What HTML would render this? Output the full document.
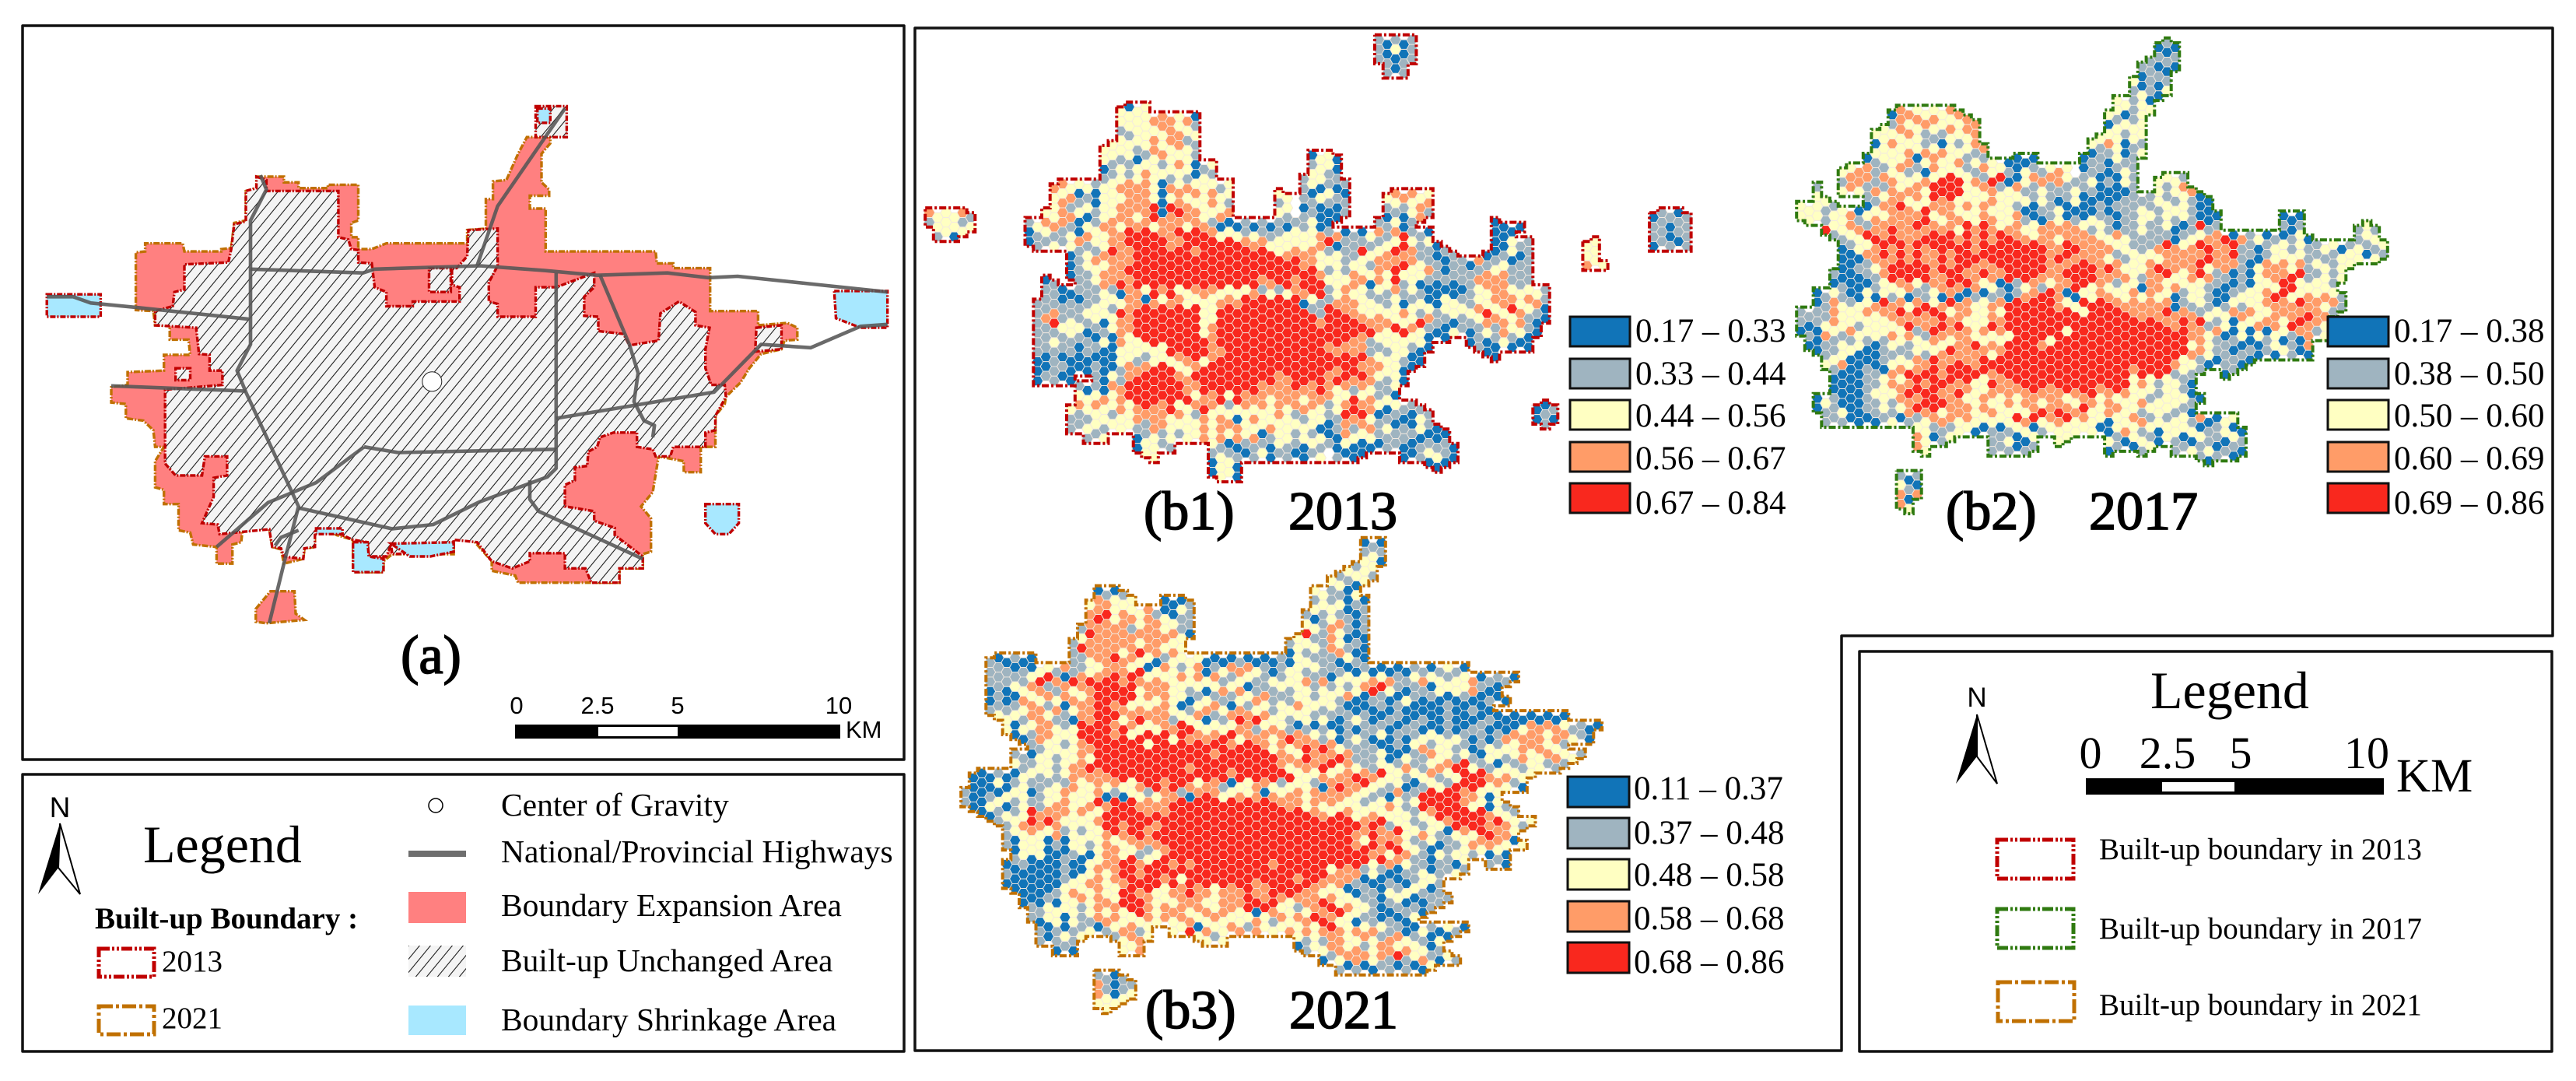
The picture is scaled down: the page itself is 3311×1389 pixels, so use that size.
<!DOCTYPE html>
<html lang="en">
<head>
<meta charset="utf-8">
<title>Built-up boundary and hexagon maps</title>
<style>
html,body{margin:0;padding:0;background:#fff;}
svg{display:block;}
text{fill:#000;font-family:"Liberation Serif",serif;}
.sans{font-family:"Liberation Sans",sans-serif;}
.frame{fill:none;stroke:#111;stroke-width:3.5;stroke-linejoin:round;}
.sw{stroke:#111;stroke-width:3;}
.lg{font-size:43px;}
.ttl{font-size:70px;stroke:#000;stroke-width:1.7px;}
.leg{font-size:41.5px;}
.bnd{font-size:39px;}
.kb13{fill:none;stroke:#c00000;stroke-width:5;stroke-dasharray:14 3 3 3 3 3;}
.kb17{fill:none;stroke:#2f7a10;stroke-width:5;stroke-dasharray:14 3 3 3 3 3;}
.kb21{fill:none;stroke:#c07000;stroke-width:5;stroke-dasharray:18 4 4 4;}
</style>
</head>
<body>
<svg id="root" xmlns="http://www.w3.org/2000/svg" width="3311" height="1389" viewBox="0 0 3311 1389">
<defs>
<pattern id="hatch" patternUnits="userSpaceOnUse" width="14" height="17">
<rect width="14" height="17" fill="#f4f4f4"/>
<line x1="0" y1="17" x2="14" y2="0" stroke="#222" stroke-width="1.1"/>
<line x1="-2" y1="2" x2="2" y2="-2" stroke="#222" stroke-width="1.1"/>
<line x1="12" y1="19" x2="16" y2="15" stroke="#222" stroke-width="1.1"/>
</pattern>
</defs>
<rect width="3311" height="1389" fill="#fff"/>

<rect class="frame" x="29" y="33" width="1133" height="943"/>
<rect class="frame" x="29" y="995" width="1133" height="356"/>
<path class="frame" d="M1176 36H3281V817H2367V1350H1176Z"/>
<rect class="frame" x="2390" y="837" width="890" height="514"/>

<g id="mapA"></g>
<g id="hexB1"></g>
<g id="hexB2"></g>
<g id="hexB3"></g>

<text class="ttl" x="554" y="865" text-anchor="middle">(a)</text>
<g>
<rect x="662" y="931" width="418" height="18" fill="#000"/>
<rect x="769" y="934" width="102" height="12" fill="#fff"/>
<text class="sans" font-size="31" x="664" y="917" text-anchor="middle">0</text>
<text class="sans" font-size="31" x="768" y="917" text-anchor="middle">2.5</text>
<text class="sans" font-size="31" x="871" y="917" text-anchor="middle">5</text>
<text class="sans" font-size="31" x="1078" y="917" text-anchor="middle">10</text>
<text class="sans" font-size="31" x="1087" y="948">KM</text>
</g>

<g>
<text class="sans" font-size="37" x="77" y="1050" text-anchor="middle">N</text>
<path d="M77 1058L49 1149L75 1115Z" fill="#000"/>
<path d="M77 1058L103 1149L75 1115Z" fill="#fff" stroke="#000" stroke-width="2"/>
<text font-size="68" x="184" y="1108">Legend</text>
<text font-size="39" font-weight="bold" x="122" y="1193">Built-up Boundary :</text>
<rect class="kb13" x="127" y="1219" width="71" height="36"/>
<text font-size="39" x="208" y="1248">2013</text>
<rect class="kb21" x="127" y="1293" width="71" height="36"/>
<text font-size="39" x="208" y="1321">2021</text>
<ellipse cx="560" cy="1035" rx="9" ry="9" fill="#fff" stroke="#000" stroke-width="1.5"/>
<text class="leg" x="644" y="1048">Center of Gravity</text>
<rect x="525" y="1093" width="74" height="8" fill="#6e6e6e"/>
<text class="leg" x="644" y="1108">National/Provincial Highways</text>
<rect x="525" y="1146" width="74" height="40" fill="#ff8080"/>
<text class="leg" x="644" y="1177">Boundary Expansion Area</text>
<rect x="525" y="1215" width="74" height="40" fill="url(#hatch)"/>
<text class="leg" x="644" y="1248">Built-up Unchanged Area</text>
<rect x="525" y="1292" width="74" height="38" fill="#a8e8ff"/>
<text class="leg" x="644" y="1324">Boundary Shrinkage Area</text>
</g>

<text class="ttl" x="1470" y="680">(b1)</text>
<text class="ttl" x="1656" y="680">2013</text>
<text class="ttl" x="2501" y="680">(b2)</text>
<text class="ttl" x="2685" y="680">2017</text>
<text class="ttl" x="1472" y="1321">(b3)</text>
<text class="ttl" x="1657" y="1321">2021</text>

<g id="classLegends"></g>

<g>
<text font-size="68" x="2764" y="910">Legend</text>
<text class="sans" font-size="35" x="2541" y="908" text-anchor="middle">N</text>
<path d="M2541 918L2514 1007L2541 972Z" fill="#000"/>
<path d="M2541 918L2567 1007L2541 972Z" fill="#fff" stroke="#000" stroke-width="2"/>
<text font-size="58" x="2687" y="987" text-anchor="middle">0</text>
<text font-size="58" x="2786" y="987" text-anchor="middle">2.5</text>
<text font-size="58" x="2880" y="987" text-anchor="middle">5</text>
<text font-size="58" x="3042" y="987" text-anchor="middle">10</text>
<rect x="2681" y="1000" width="383" height="21" fill="#000"/>
<rect x="2779" y="1005" width="93" height="12" fill="#fff"/>
<text font-size="61" x="3080" y="1017">KM</text>
<rect class="kb13" x="2567" y="1079" width="98" height="50"/>
<rect class="kb17" x="2567" y="1168" width="98" height="50"/>
<rect class="kb21" x="2568" y="1262" width="98" height="50"/>
<text class="bnd" x="2698" y="1104">Built-up boundary in 2013</text>
<text class="bnd" x="2698" y="1206">Built-up boundary in 2017</text>
<text class="bnd" x="2698" y="1304">Built-up boundary in 2021</text>
</g>
</svg>

<script>
// Class colours (1..5) and the printed class ranges for each year.
const classColors = ['#1174b8', '#9fb4c0', '#ffffc2', '#ff9c68', '#f9281e'];
const b1Breaks = ['0.17 – 0.33', '0.33 – 0.44', '0.44 – 0.56', '0.56 – 0.67', '0.67 – 0.84'];
const b2Breaks = ['0.17 – 0.38', '0.38 – 0.50', '0.50 – 0.60', '0.60 – 0.69', '0.69 – 0.86'];
const b3Breaks = ['0.11 – 0.37', '0.37 – 0.48', '0.48 – 0.58', '0.58 – 0.68', '0.68 – 0.86'];

// Hexagon classes per grid row. "col:digits" starts a run at a column; a bare token continues it.
const b1Rows = [
"54:21212","54:21312","54:22122","55:212","","","",
"23:3133","23:3333444341","23:2333344332","23:3233434423","21:333323433432",
"21:332312343332 46:1331","21:12323332343123 46:2331","21:22323433232132 45:23322",
"15:4433323344443143433323 45:231212","15:3341213334443134343433 42:33 45:213321 55:344433",
"15:3422313344445154433432 42:23 45:121212 55:232344",
"0:433342 14:33443123344345145443344 42:32 45:221112 55:121342 87:12212",
"0:233323 12:2344421324 4344434443 4421112121 212231 48:1 54:22312 68:11 71:1 87:22122",
"1:2313 12:1232231433 4455554455 5543332322 233334 48:2412134245221 68:111 87:22122",
"12:1223234233 4455555445 5555554443 333334 48:51222223353231 68:11322 79:33 87:12212",
"17:1232454455 5555545555 5555534444 3 48:2322533454422122 67:112312 79:33",
"17:1234344455 5555555555 5555555544 3 48:3323324445432212214223122 79:433",
"17:1223444555 5555555555 5555555555 4 48:232433435333421222243422 2",
"14:12 18:2234454555 5555555555 5544554555 48:3334414352312121224444222",
"14:2211222321 4435453344 4333342323 4455 48:234332324232111112334433332",
"13:2221212233 3441434433 3344455555 55132 48:244433223123113322334443442",
"13:2242223332 5455555555 3355555555 55522 48:554433333432323333453354321",
"13:2452322313 4455555555 3355555555 55554 48:555544443335422122344434211",
"13:2223331223 4455555555 3455555555 55555 48:55555543554321132123243321",
"13:2232222131 4335555555 5455555555 55555 48:555442333333 60:1 62:1 65:12123211",
"13:2222212211 3333335555 5445555555 55555 48:4444422233211 66:211 70:1 72:1",
"13:1121111111 3322333445 3455555555 55555 48:555554333211 68:1",
"13:1122111211 2444555334 5555555555 55555 48:54554443311",
"13:12211 20:2132455555 4455555555 55445555 48:4554543231",
"18:2121445555 5554455555 5544445445 48:434243223",
"18:3334345555 5555344535 4443444344 48:433534231",
"17:3434334345 4453345432 3434343444 3 48:234544313222 73:112",
"17:2223323344 4434324343 1343343223 3 48:225453122113 60:2 73:121",
"17:2233233322 4433334344 4333433333 1 48:12424423121321 74:2",
"19:223 25:1232323343 4343412332 323 48:114333222221111",
"25:13322 34:32112221322132 48:2131111221122221",
"26:33 34:23221231221123 49:2111 57:1123321",
"34:1331 60:111",
"34:1331"
];

const b2Rows = [
"43:121","43:212","41:22121","41:1221","40:31212","40:23213","38:33231",
"11:144333344 37:331233","11:24344433344 37:12323","9:3334432324344 37:33233",
"9:1343332213234 35:3343132","9:33334343433324 35:1223123",
"8:1233341343342323 25:1111 34:1221322","5:3344223422143332243321322343 34:1221232",
"5:2444244333 4355534255 1134444322 312132 43:3332",
"2:2 5:3432424344 3555533442 3422322232 211112 43:32344",
"2:33 8:2234434354 5333343333 2321231111 1222232232 11",
"0:333223 7:1134454354 4434343332 1122311112 1222322333 211",
"0:3332334234 3444453344 3344334211 2312132212 2332323211 1 58:111",
"3:5334424454 4544443545 4344334444 4323212232 23112522 58:212 67:232",
"4:2233554544 4555545454 5544344344 4433432222 2123344514 2312123 1 67:233",
"5:1233454545 4555554555 5555544554 4443322245 4345544522 1233232233 123223",
"5:1114454545 4454555555 5555545544 4432233334 4444544522 1233332222 333132",
"5:1122345555 5454554445 5555544455 5454333454 4445344421 3444342332 33",
"4:2111224555 5544554454 4555544455 5544443244 5334542212 1344455223 23",
"4:1211123344 3244545433 1123423445 5343233144 3433322112 1333553333 2",
"2:1232113132 3122314112 1221244554 1133443343 4331233211 2333455334 3432",
"2:1243233454 4345345443 3445555554 3355554444 4441223212 3233444454 4342",
"0:2222433343 4454545534 4334355555 5555355555 4444544423 3344433444 45442",
"0:2123433233 3345444545 3335455555 5555555555 5555445452 2313344435 5443",
"0:1214324333 3434225444 4343435555 5535555555 5555555443 4113131332 442331",
"1:1122323212 3323343344 5343555543 5555555555 5555553432 2211123121 4",
"2:1223311122 2232345444 4345555555 5555555555 5555544322 1221221 56:213211",
"3:3341111233 3445445445 5555555555 5555555555 5543321122 11",
"4:2111221445 4554555554 5555555555 5555554555 52322 51:12",
"4:1111223434 5455545335 4455555555 5555553432 3321",
"4:1111233345 5554454334 4444544454 5544543332 3321",
"2:1321112232 4445554433 4334344344 3344343334 2333321",
"2:1223112232 3454534443 4433334545 4453344332 333221",
"3:2221111231 2234443433 3335453445 3433133442 3233241 133",
"14:3322233112 1233123333 3311343231 3333122311",
"14:43123 23:223113 31:33 37:32133213211322132",
"14:43 23:222122 37:12 40:123 45:223231221",
"48:212 52:1","",
"12:212","12:321","12:414","12:43"
];

const b3Rows = [
"48:121","48:232","47:2331","45:23332","44:33213","16:1212 42:332213",
"15:344333 24:1112 42:2323121","15:4453433421132 41:23232112","15:4543443443322 41:31234212",
"14:25444424443421 41:53243212","13:23444444344433 39:2332243121","13:254444345443 43 39:1323244211",
"3:211211 13:2234454433 1233331111 2111121332 221321",
"3:2221213324 2233444351 3432341234 4432123323 2221121111 1221232 1",
"3:2222235541 5454554543 4334343422 3322323342 4133334342 2343323341 2221",
"3:1213344224 3445555534 4433231343 4122232332 3232345532 1221333342 11",
"3:1211433434 4345555534 3433123222 3344222332 3324112211 3212111211 211",
"3:2222344241 3445544343 4431234431 4233233433 2321111212 1111121121 1",
"4:3332443221 4455534544 4233412245 4543323323 2123211221 1211211112 111111111",
"5:3133443235 5554543334 4553333344 2343212121 1212221122 1112112211 1134444322 11",
"6:1124433355 5545355553 5444455344 4345443231 2321312123 3323212124 4444344321",
"8:2233234455 5555355555 5555455543 4345454322 2211213423 3221232334 4433 2",
"6:2213323343 5555555555 5555455555 5544354445 4222311322 4332321332 343344332",
"6:3223323445 5555555555 5455555555 5543444553 4322332422 3445532213 2233222",
"1:1112113323 2344444555 5555555555 5455555553 3343445445 3323342335 5543433 3",
"1:1113123222 3243343433 4554554344 2133443233 3214544533 2311233255 5534321",
"0:2112133312 3343334121 3323442145 4334341434 4344444332 2142255555 44313",
"0:2113312322 3443345455 5444455555 5555555544 4343433323 3432355555 433132",
"2:1123235444 4343355555 4545555555 5555555555 4435433433 3323455555 54332",
"4:2234545433 3345545554 5555555555 5555555555 5555455233 2233455554 54323",
"5:2334334232 3345455455 5555555555 5555555555 5544544533 4321343554 43",
"5:2133312133 2343344445 5555555555 5555555555 5543545432 2312234444 313",
"6:1333111231 3443322345 5555555555 5555555555 5554435432 1323323131",
"5:1221111211 3344554355 4545555555 5545555555 5555354432 212213 63:221",
"5:2111111211 3434554555 5555555555 5555555553 4442321122 312232",
"5:1111111233 4434455554 5355555555 4555545544 4421112112 332",
"6:1111123433 4335545334 4544344454 4555544333 1122132332 12",
"7:1112133434 4355543334 4433444554 5434445433 3221231112 22",
"8:2233332343 4355434443 4434435154 3323445543 3211222 12",
"8:2133132244 4333434344 3343333432 4344554331 2212113",
"9:21212231234423 25:3351433442 4333434345 4343432211 321321",
"9:212323 18:23443 28:3323 40:3232443343244322131",
"11:121 19:334 40:123344342344343312",
"43:12344434252342132",
"45:212112212113",
"16:2212","16:42122","16:43133","16:333"
];

// Panel (a) outlines (tracing-space coordinates, converted by ax/ay).
const expansionOutline = [[438,338],[485,338],[485,350],[510,350],[510,362],[560,362],[560,355],[612,355],[612,430],[600,435],[600,465],[612,465],[612,490],[635,490],[660,478],[798,478],[798,450],[830,447],[830,385],[842,385],[842,348],[865,345],[885,290],[900,255],[940,255],[940,268],[925,290],[925,350],[938,365],[938,378],[905,378],[905,405],[932,405],[932,495],[1120,495],[1122,520],[1150,520],[1150,530],[1213,530],[1213,620],[1295,620],[1295,650],[1345,645],[1362,655],[1362,680],[1340,682],[1335,700],[1300,710],[1280,740],[1265,770],[1240,800],[1238,815],[1222,840],[1222,905],[1197,905],[1197,958],[1168,958],[1168,935],[1125,925],[1115,1000],[1095,1030],[1112,1055],[1112,1125],[1098,1130],[1098,1160],[1058,1160],[1058,1190],[885,1190],[880,1175],[840,1165],[840,1145],[815,1110],[805,1097],[775,1100],[775,1130],[670,1130],[655,1145],[655,1168],[603,1168],[603,1100],[575,1090],[555,1075],[538,1080],[538,1115],[520,1118],[518,1140],[485,1150],[480,1120],[465,1115],[460,1075],[415,1070],[412,1105],[397,1110],[397,1150],[370,1150],[370,1115],[330,1110],[325,1085],[305,1080],[305,1025],[280,1025],[280,995],[265,990],[265,935],[280,905],[265,905],[262,870],[245,850],[215,845],[215,815],[190,812],[190,780],[218,775],[218,748],[280,745],[280,712],[325,712],[322,680],[290,680],[290,650],[265,650],[262,620],[232,618],[232,497],[248,495],[248,478],[312,478],[315,495],[378,495],[378,490],[395,488],[400,435],[420,430],[420,368],[438,362]];
const unchangedOutline = [[438,338],[455,345],[455,368],[578,368],[578,465],[595,470],[600,490],[612,492],[612,518],[635,520],[640,570],[660,580],[660,610],[705,610],[705,600],[785,600],[785,570],[772,565],[772,530],[780,530],[798,505],[800,450],[850,447],[850,525],[835,560],[835,600],[850,605],[850,632],[915,632],[915,570],[950,570],[1015,540],[1015,570],[998,590],[998,630],[1022,632],[1022,662],[1065,668],[1075,692],[1125,682],[1128,625],[1160,600],[1188,622],[1188,650],[1212,655],[1205,700],[1205,740],[1215,775],[1238,775],[1240,800],[1222,840],[1222,870],[1205,875],[1205,905],[1150,905],[1145,925],[1120,925],[1115,910],[1088,905],[1088,875],[1048,875],[1025,885],[1020,905],[1005,915],[1003,945],[982,948],[982,975],[965,985],[965,1030],[1015,1040],[1015,1060],[1050,1075],[1050,1090],[1098,1135],[1098,1160],[1058,1160],[1058,1190],[1010,1190],[1000,1160],[965,1160],[965,1128],[905,1128],[905,1145],[875,1160],[840,1145],[815,1105],[775,1100],[775,1125],[670,1130],[668,1110],[660,1135],[630,1135],[628,1105],[603,1100],[575,1085],[538,1080],[538,1115],[520,1118],[518,1140],[485,1135],[480,1118],[465,1115],[460,1078],[375,1088],[372,1068],[345,1065],[365,1010],[365,970],[388,965],[388,925],[350,925],[345,965],[300,965],[282,940],[282,785],[380,775],[380,745],[358,745],[358,712],[340,710],[335,655],[265,650],[265,620],[295,610],[298,580],[315,575],[315,522],[390,518],[395,490],[400,438],[420,432],[420,368],[438,362]];
const unchangedPatches = [
[[733,530],[770,530],[770,580],[733,580]],
[[915,190],[968,190],[968,255],[915,255]],
[[1292,655],[1335,650],[1335,700],[1290,705]],
[[300,740],[325,740],[325,765],[300,765]]
];
const expansionPatches = [
[[437,1245],[462,1208],[503,1208],[505,1255],[520,1268],[455,1275],[437,1272]]
];
const shrinkPatches = [
[[80,585],[172,585],[172,632],[80,632]],
[[1425,578],[1516,578],[1516,655],[1470,655],[1428,635]],
[[1205,1025],[1262,1025],[1262,1065],[1245,1088],[1222,1088],[1205,1065]],
[[603,1105],[628,1105],[630,1135],[655,1140],[655,1168],[603,1168]],
[[668,1108],[775,1105],[775,1125],[735,1135],[700,1135]],
[[540,1076],[585,1076],[585,1088],[540,1088]],
[[918,195],[940,195],[940,225],[918,225]]
];
const highways = [
[[80,590],[125,590],[155,603],[230,612],[425,637]],
[[445,335],[455,365],[428,430],[428,690],[405,745],[420,790],[510,1030],[487,1140],[460,1275]],
[[428,532],[620,540],[640,532],[820,525],[930,535],[1020,545],[1140,540],[1210,550],[1260,547],[1400,565],[1516,580]],
[[815,525],[850,400],[965,195]],
[[190,777],[420,788]],
[[950,540],[950,950],[935,968],[820,1020],[740,1068],[670,1077],[510,1033]],
[[622,905],[680,917],[950,910]],
[[622,905],[540,980],[458,1022],[370,1115]],
[[905,975],[905,1015],[920,1040],[1098,1140]],
[[1025,545],[1075,690],[1090,750],[1083,810],[1100,850],[1118,860],[1115,885]],
[[950,845],[1220,790],[1300,690],[1385,697],[1470,652],[1516,648]],
[[470,1112],[480,1095],[510,1080]]
];
const gravityCenter = [738, 768];

const SVGNS = 'http://www.w3.org/2000/svg';
const ax = function (x) { return x / 1.329; };
const ay = function (y) { return 20 + y / 1.633; };
const toPts = function (list) {
  return list.map(function (p) { return ax(p[0]).toFixed(1) + ',' + ay(p[1]).toFixed(1); }).join(' ');
};

function drawPolygon(parent, list, fill, stroke, dash, name) {
  const el = document.createElementNS(SVGNS, 'polygon');
  
  
  el.setAttribute('points', toPts(list));
  el.setAttribute('fill', fill);
  if (stroke) {
    el.setAttribute('stroke', stroke);
    el.setAttribute('stroke-width', '3.4');
    el.setAttribute('stroke-dasharray', dash);
  }
  parent.appendChild(el);
}

const mapA = document.getElementById('mapA');
drawPolygon(mapA, expansionOutline, '#ff8080', '#c07000', '8 2 2 2', 'boundary-expansion-area');
expansionPatches.forEach(function (p) {
  drawPolygon(mapA, p, '#ff8080', '#c07000', '8 2 2 2', 'boundary-expansion-patch');
});
drawPolygon(mapA, unchangedOutline, 'url(#hatch)', '#c00000', '7 2 2 2', 'built-up-unchanged-area');
unchangedPatches.forEach(function (p) {
  drawPolygon(mapA, p, 'url(#hatch)', '#c00000', '7 2 2 2', 'built-up-unchanged-patch');
});
shrinkPatches.forEach(function (p) {
  drawPolygon(mapA, p, '#a8e8ff', '#c00000', '7 2 2 2', 'boundary-shrinkage-area');
});
highways.forEach(function (h) {
  const el = document.createElementNS(SVGNS, 'polyline');
  
  
  el.setAttribute('points', toPts(h));
  el.setAttribute('fill', 'none');
  el.setAttribute('stroke', '#555');
  el.setAttribute('stroke-opacity', '0.88');
  el.setAttribute('stroke-width', '4.6');
  el.setAttribute('stroke-linejoin', 'round');
  mapA.appendChild(el);
});
const centerMark = document.createElementNS(SVGNS, 'ellipse');


centerMark.setAttribute('cx', ax(gravityCenter[0]));
centerMark.setAttribute('cy', ay(gravityCenter[1]));
centerMark.setAttribute('rx', '12.5');
centerMark.setAttribute('ry', '12.5');
centerMark.setAttribute('fill', '#fff');
centerMark.setAttribute('stroke', '#222');
centerMark.setAttribute('stroke-width', '1');
mapA.appendChild(centerMark);

// Hexagon grid: flat-topped cells, odd columns sit half a row lower.
const HEX_R = 7.13;
const COL_W = 10.7;
const ROW_H = 12.35;

function parseRows(rows) {
  const cells = new Map();
  rows.forEach(function (row, j) {
    let cursor = 0;
    row.split(' ').forEach(function (tok) {
      if (!tok) { return; }
      let digits = tok;
      if (tok.indexOf(':') >= 0) {
        const parts = tok.split(':');
        cursor = parseInt(parts[0], 10);
        digits = parts[1];
      }
      for (let k = 0; k < digits.length; k++) {
        cells.set(cursor + ',' + j, parseInt(digits[k], 10));
        cursor++;
      }
    });
  });
  return cells;
}

// Rectilinear boundary derived from the occupied cells, on a half-row grid,
// with one-column notches closed so that edges run straight as on the map.
function boundaryPath(cells, x0, y0) {
  const occ = new Set();
  cells.forEach(function (cls, key) {
    const parts = key.split(',');
    const i = parseInt(parts[0], 10);
    const j = parseInt(parts[1], 10);
    const h = 2 * j + (i % 2 !== 0 ? 1 : 0);
    occ.add(i + ',' + h);
    occ.add(i + ',' + (h + 1));
  });
  const extra = [];
  occ.forEach(function (key) {
    const parts = key.split(',');
    const i = parseInt(parts[0], 10);
    const h = parseInt(parts[1], 10);
    if (!occ.has((i + 1) + ',' + h) && occ.has((i + 2) + ',' + h)) {
      extra.push((i + 1) + ',' + h);
    }
  });
  extra.forEach(function (key) { occ.add(key); });
  const next = new Map();
  const addEdge = function (a, b, c, d) {
    const start = a + ',' + b;
    if (!next.has(start)) { next.set(start, []); }
    next.get(start).push(c + ',' + d);
  };
  occ.forEach(function (key) {
    const parts = key.split(',');
    const i = parseInt(parts[0], 10);
    const h = parseInt(parts[1], 10);
    if (!occ.has(i + ',' + (h - 1))) { addEdge(i, h, i + 1, h); }
    if (!occ.has((i + 1) + ',' + h)) { addEdge(i + 1, h, i + 1, h + 1); }
    if (!occ.has(i + ',' + (h + 1))) { addEdge(i + 1, h + 1, i, h + 1); }
    if (!occ.has((i - 1) + ',' + h)) { addEdge(i, h + 1, i, h); }
  });
  const toXY = function (key) {
    const parts = key.split(',');
    const vx = parseInt(parts[0], 10);
    const vy = parseInt(parts[1], 10);
    return (x0 + (vx - 0.5) * COL_W).toFixed(1) + ' ' + (y0 - ROW_H / 2 + vy * ROW_H / 2).toFixed(1);
  };
  let d = '';
  next.forEach(function (ends, start) {
    while (ends.length) {
      d += 'M' + toXY(start);
      let cur = start;
      while (next.has(cur) && next.get(cur).length) {
        cur = next.get(cur).pop();
        d += 'L' + toXY(cur);
      }
    }
  });
  return d;
}

function drawHexMap(rootId, rows, x0, y0, boundaryColor) {
  const root = document.getElementById(rootId);
  const cells = parseRows(rows);
  const corners = [];
  for (let a = 0; a < 6; a++) {
    const t = a * Math.PI / 3;
    corners.push([HEX_R * Math.cos(t), HEX_R * Math.sin(t)]);
  }
  cells.forEach(function (cls, key) {
    const parts = key.split(',');
    const i = parseInt(parts[0], 10);
    const j = parseInt(parts[1], 10);
    const cx = x0 + i * COL_W;
    const cy = y0 + j * ROW_H + (i % 2 !== 0 ? ROW_H / 2 : 0);
    const hex = document.createElementNS(SVGNS, 'polygon');
    
    
    hex.setAttribute('points', corners.map(function (c) {
      return (cx + c[0]).toFixed(1) + ',' + (cy + c[1]).toFixed(1);
    }).join(' '));
    hex.setAttribute('fill', classColors[cls - 1]);
    hex.setAttribute('stroke', '#f3e9e0');
    hex.setAttribute('stroke-width', '0.9');
    root.appendChild(hex);
  });
  const edge = document.createElementNS(SVGNS, 'path');
  
  
  edge.setAttribute('d', boundaryPath(cells, x0, y0));
  edge.setAttribute('fill', 'none');
  edge.setAttribute('stroke', boundaryColor);
  edge.setAttribute('stroke-width', '4');
  edge.setAttribute('stroke-dasharray', '9 3 3 3');
  root.appendChild(edge);
}
drawHexMap('hexB1', b1Rows, 1194.5, 51, '#c00000');
drawHexMap('hexB2', b2Rows, 2314.5, 55, '#2f7a10');
drawHexMap('hexB3', b3Rows, 1240.5, 697, '#c07000');

// Class legends for the three hexagon maps.
function drawClassLegend(labels, swatchX, textX, tops, baselines, swatchW, swatchH, key) {
  const parent = document.getElementById('classLegends');
  labels.forEach(function (label, n) {
    const sw = document.createElementNS(SVGNS, 'rect');
    
    
    sw.setAttribute('class', 'sw');
    sw.setAttribute('x', swatchX);
    sw.setAttribute('y', tops[n]);
    sw.setAttribute('width', swatchW);
    sw.setAttribute('height', swatchH);
    sw.setAttribute('fill', classColors[n]);
    parent.appendChild(sw);
    const tx = document.createElementNS(SVGNS, 'text');
    
    
    tx.setAttribute('class', 'lg');
    tx.setAttribute('x', textX);
    tx.setAttribute('y', baselines[n]);
    tx.textContent = label;
    parent.appendChild(tx);
  });
}
drawClassLegend(b1Breaks, 2018, 2102, [407, 461, 514, 568, 621], [439, 494, 548, 603, 660], 77, 38, 'b1');
drawClassLegend(b2Breaks, 2992, 3077, [407, 461, 514, 568, 621], [439, 494, 548, 603, 660], 78, 38, 'b2');
drawClassLegend(b3Breaks, 2015, 2100, [998, 1051, 1104, 1158, 1211], [1027, 1084, 1138, 1194, 1250], 79, 39, 'b3');
</script>
</body>
</html>
